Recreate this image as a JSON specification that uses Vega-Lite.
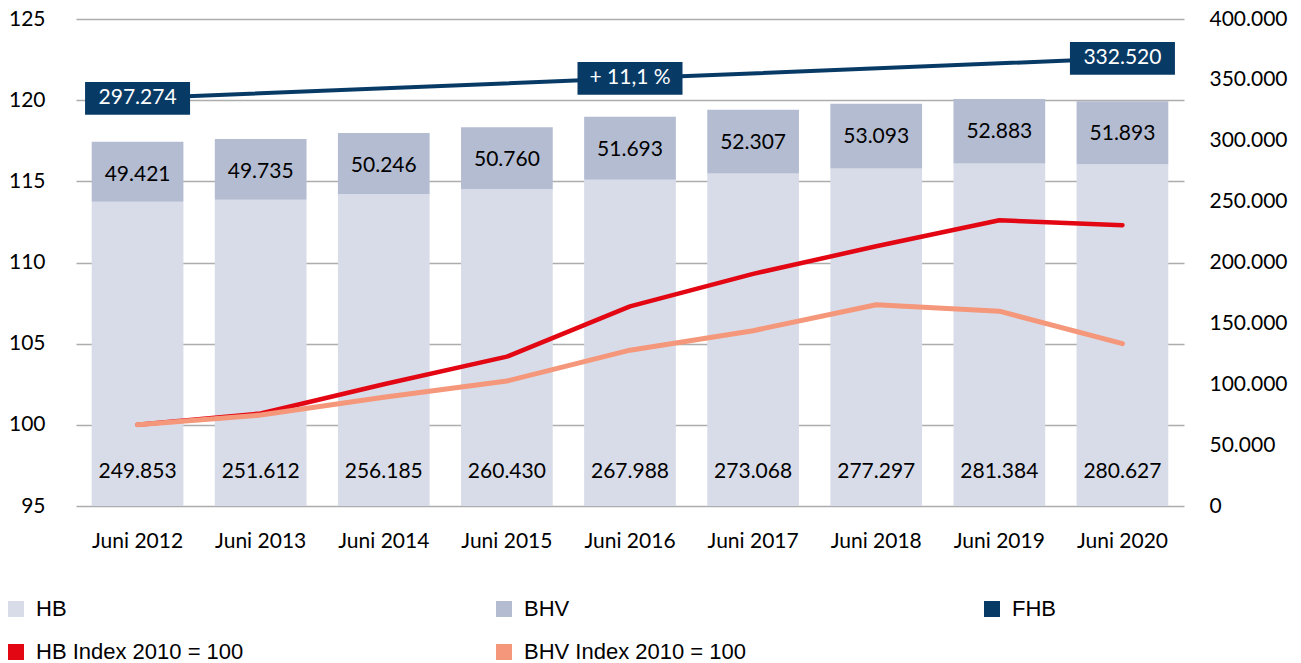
{
  "$schema": "https://vega.github.io/schema/vega-lite/v6.json",
  "width": 1108,
  "height": 487,
  "autosize": {"type": "none"},
  "padding": {"left": 76, "top": 19, "right": 117, "bottom": 157},
  "background": "white",
  "config": {
    "locale": {"number": {"decimal": ",", "thousands": ".", "grouping": [3], "currency": ["", " €"]}},
    "view": {"stroke": null},
    "font": "Lato",
    "axis": {"labelFont": "Lato", "labelFontSize": 21, "labelColor": "#000000", "ticks": false, "domain": false},
    "text": {"font": "Lato", "fontSize": 21}
  },
  "datasets": {
    "bestand": [
      {"jahr": "Juni 2012", "serie": "HB", "wert": 249853},
      {"jahr": "Juni 2012", "serie": "BHV", "wert": 49421},
      {"jahr": "Juni 2013", "serie": "HB", "wert": 251612},
      {"jahr": "Juni 2013", "serie": "BHV", "wert": 49735},
      {"jahr": "Juni 2014", "serie": "HB", "wert": 256185},
      {"jahr": "Juni 2014", "serie": "BHV", "wert": 50246},
      {"jahr": "Juni 2015", "serie": "HB", "wert": 260430},
      {"jahr": "Juni 2015", "serie": "BHV", "wert": 50760},
      {"jahr": "Juni 2016", "serie": "HB", "wert": 267988},
      {"jahr": "Juni 2016", "serie": "BHV", "wert": 51693},
      {"jahr": "Juni 2017", "serie": "HB", "wert": 273068},
      {"jahr": "Juni 2017", "serie": "BHV", "wert": 52307},
      {"jahr": "Juni 2018", "serie": "HB", "wert": 277297},
      {"jahr": "Juni 2018", "serie": "BHV", "wert": 53093},
      {"jahr": "Juni 2019", "serie": "HB", "wert": 281384},
      {"jahr": "Juni 2019", "serie": "BHV", "wert": 52883},
      {"jahr": "Juni 2020", "serie": "HB", "wert": 280627},
      {"jahr": "Juni 2020", "serie": "BHV", "wert": 51893}
    ],
    "index": [
      {"jahr": "Juni 2012", "hb_idx": 100.0, "bhv_idx": 100.0},
      {"jahr": "Juni 2013", "hb_idx": 100.7, "bhv_idx": 100.6},
      {"jahr": "Juni 2014", "hb_idx": 102.5, "bhv_idx": 101.7},
      {"jahr": "Juni 2015", "hb_idx": 104.2, "bhv_idx": 102.7},
      {"jahr": "Juni 2016", "hb_idx": 107.3, "bhv_idx": 104.6},
      {"jahr": "Juni 2017", "hb_idx": 109.3, "bhv_idx": 105.8},
      {"jahr": "Juni 2018", "hb_idx": 111.0, "bhv_idx": 107.4},
      {"jahr": "Juni 2019", "hb_idx": 112.6, "bhv_idx": 107.0},
      {"jahr": "Juni 2020", "hb_idx": 112.3, "bhv_idx": 105.0}
    ],
    "fhb": [
      {"jahr": "Juni 2012", "fhb": 297274, "label": "297.274"},
      {"jahr": "Juni 2016", "fhb": 314897, "label": "+ 11,1 %"},
      {"jahr": "Juni 2020", "fhb": 332520, "label": "332.520"}
    ]
  },
  "encoding": {
    "x": {
      "field": "jahr",
      "type": "nominal",
      "sort": null,
      "scale": {
        "domain": ["Juni 2012", "Juni 2013", "Juni 2014", "Juni 2015", "Juni 2016", "Juni 2017", "Juni 2018", "Juni 2019", "Juni 2020"],
        "paddingInner": 0.255,
        "paddingOuter": 0.1275
      },
      "axis": {"labelAngle": 0, "labelPadding": 24, "title": null, "grid": false}
    }
  },
  "layer": [
    {
      "data": {"name": "bestand"},
      "layer": [
        {
          "mark": {"type": "bar"},
          "encoding": {
            "y": {
              "field": "wert",
              "type": "quantitative",
              "stack": "zero",
              "scale": {"domain": [0, 400000], "nice": false},
              "axis": {
                "orient": "right",
                "values": [0, 50000, 100000, 150000, 200000, 250000, 300000, 350000, 400000],
                "format": ",d",
                "grid": false,
                "labelPadding": 25,
                "title": null
              }
            },
            "color": {
              "field": "serie",
              "type": "nominal",
              "scale": {
                "domain": ["HB", "BHV", "FHB", "HB Index 2010 = 100", "BHV Index 2010 = 100"],
                "range": ["#D8DCE8", "#B4BCD2", "#083A66", "#E30613", "#F4977A"]
              },
              "legend": {
                "orient": "none",
                "legendX": -71,
                "legendY": 579,
                "direction": "horizontal",
                "columns": 3,
                "gridAlign": "all",
                "columnPadding": 235,
                "rowPadding": 21,
                "symbolType": "square",
                "symbolSize": 256,
                "symbolStrokeWidth": 0,
                "labelFont": "Liberation Sans",
                "labelFontSize": 22,
                "labelColor": "#000000",
                "labelOffset": 9,
                "labelLimit": 400,
                "padding": 0,
                "title": null
              }
            },
            "order": {"field": "serie", "sort": "descending"}
          }
        },
        {
          "transform": [{"filter": "datum.serie == 'HB'"}],
          "mark": {"type": "text", "dy": -34, "color": "#000000"},
          "encoding": {
            "y": {"datum": 0, "type": "quantitative", "axis": {"title": null}},
            "text": {"field": "wert", "type": "quantitative", "format": ",d"}
          }
        },
        {
          "transform": [
            {"stack": "wert", "groupby": ["jahr"], "sort": [{"field": "serie", "order": "descending"}], "as": ["w0", "w1"]},
            {"filter": "datum.serie == 'BHV'"}
          ],
          "mark": {"type": "text", "dy": 33, "color": "#000000"},
          "encoding": {
            "y": {"field": "w1", "type": "quantitative", "axis": {"title": null}},
            "text": {"field": "wert", "type": "quantitative", "format": ",d"}
          }
        }
      ]
    },
    {
      "data": {"name": "index"},
      "layer": [
        {
          "mark": {"type": "line", "color": "#E30613", "strokeWidth": 4.5, "strokeCap": "round", "strokeJoin": "round"},
          "encoding": {
            "y": {
              "field": "hb_idx",
              "type": "quantitative",
              "scale": {"domain": [95, 125], "nice": false, "zero": false},
              "axis": {
                "orient": "left",
                "values": [95, 100, 105, 110, 115, 120, 125],
                "grid": true,
                "gridColor": "#ADADAD",
                "gridWidth": 1.3,
                "labelPadding": 31,
                "title": null
              }
            }
          }
        },
        {
          "mark": {"type": "line", "color": "#F4977A", "strokeWidth": 5, "strokeCap": "round", "strokeJoin": "round"},
          "encoding": {
            "y": {"field": "bhv_idx", "type": "quantitative", "axis": {"title": null}}
          }
        }
      ]
    },
    {
      "data": {"name": "fhb"},
      "layer": [
        {
          "mark": {"type": "line", "color": "#083A66", "strokeWidth": 4},
          "encoding": {
            "y": {
              "field": "fhb",
              "type": "quantitative",
              "scale": {"domain": [-61700, 367150], "nice": false, "zero": false},
              "axis": null
            }
          }
        },
        {
          "mark": {
            "type": "point",
            "shape": "M-1,-0.3125L1,-0.3125L1,0.3125L-1,0.3125Z",
            "size": 11025,
            "filled": true,
            "opacity": 1,
            "color": "#083A66",
            "strokeWidth": 0
          },
          "encoding": {
            "y": {"field": "fhb", "type": "quantitative", "axis": null}
          }
        },
        {
          "mark": {"type": "text", "color": "#FFFFFF"},
          "encoding": {
            "y": {"field": "fhb", "type": "quantitative", "axis": null},
            "text": {"field": "label", "type": "nominal"}
          }
        }
      ]
    }
  ],
  "resolve": {"scale": {"y": "independent"}}
}
